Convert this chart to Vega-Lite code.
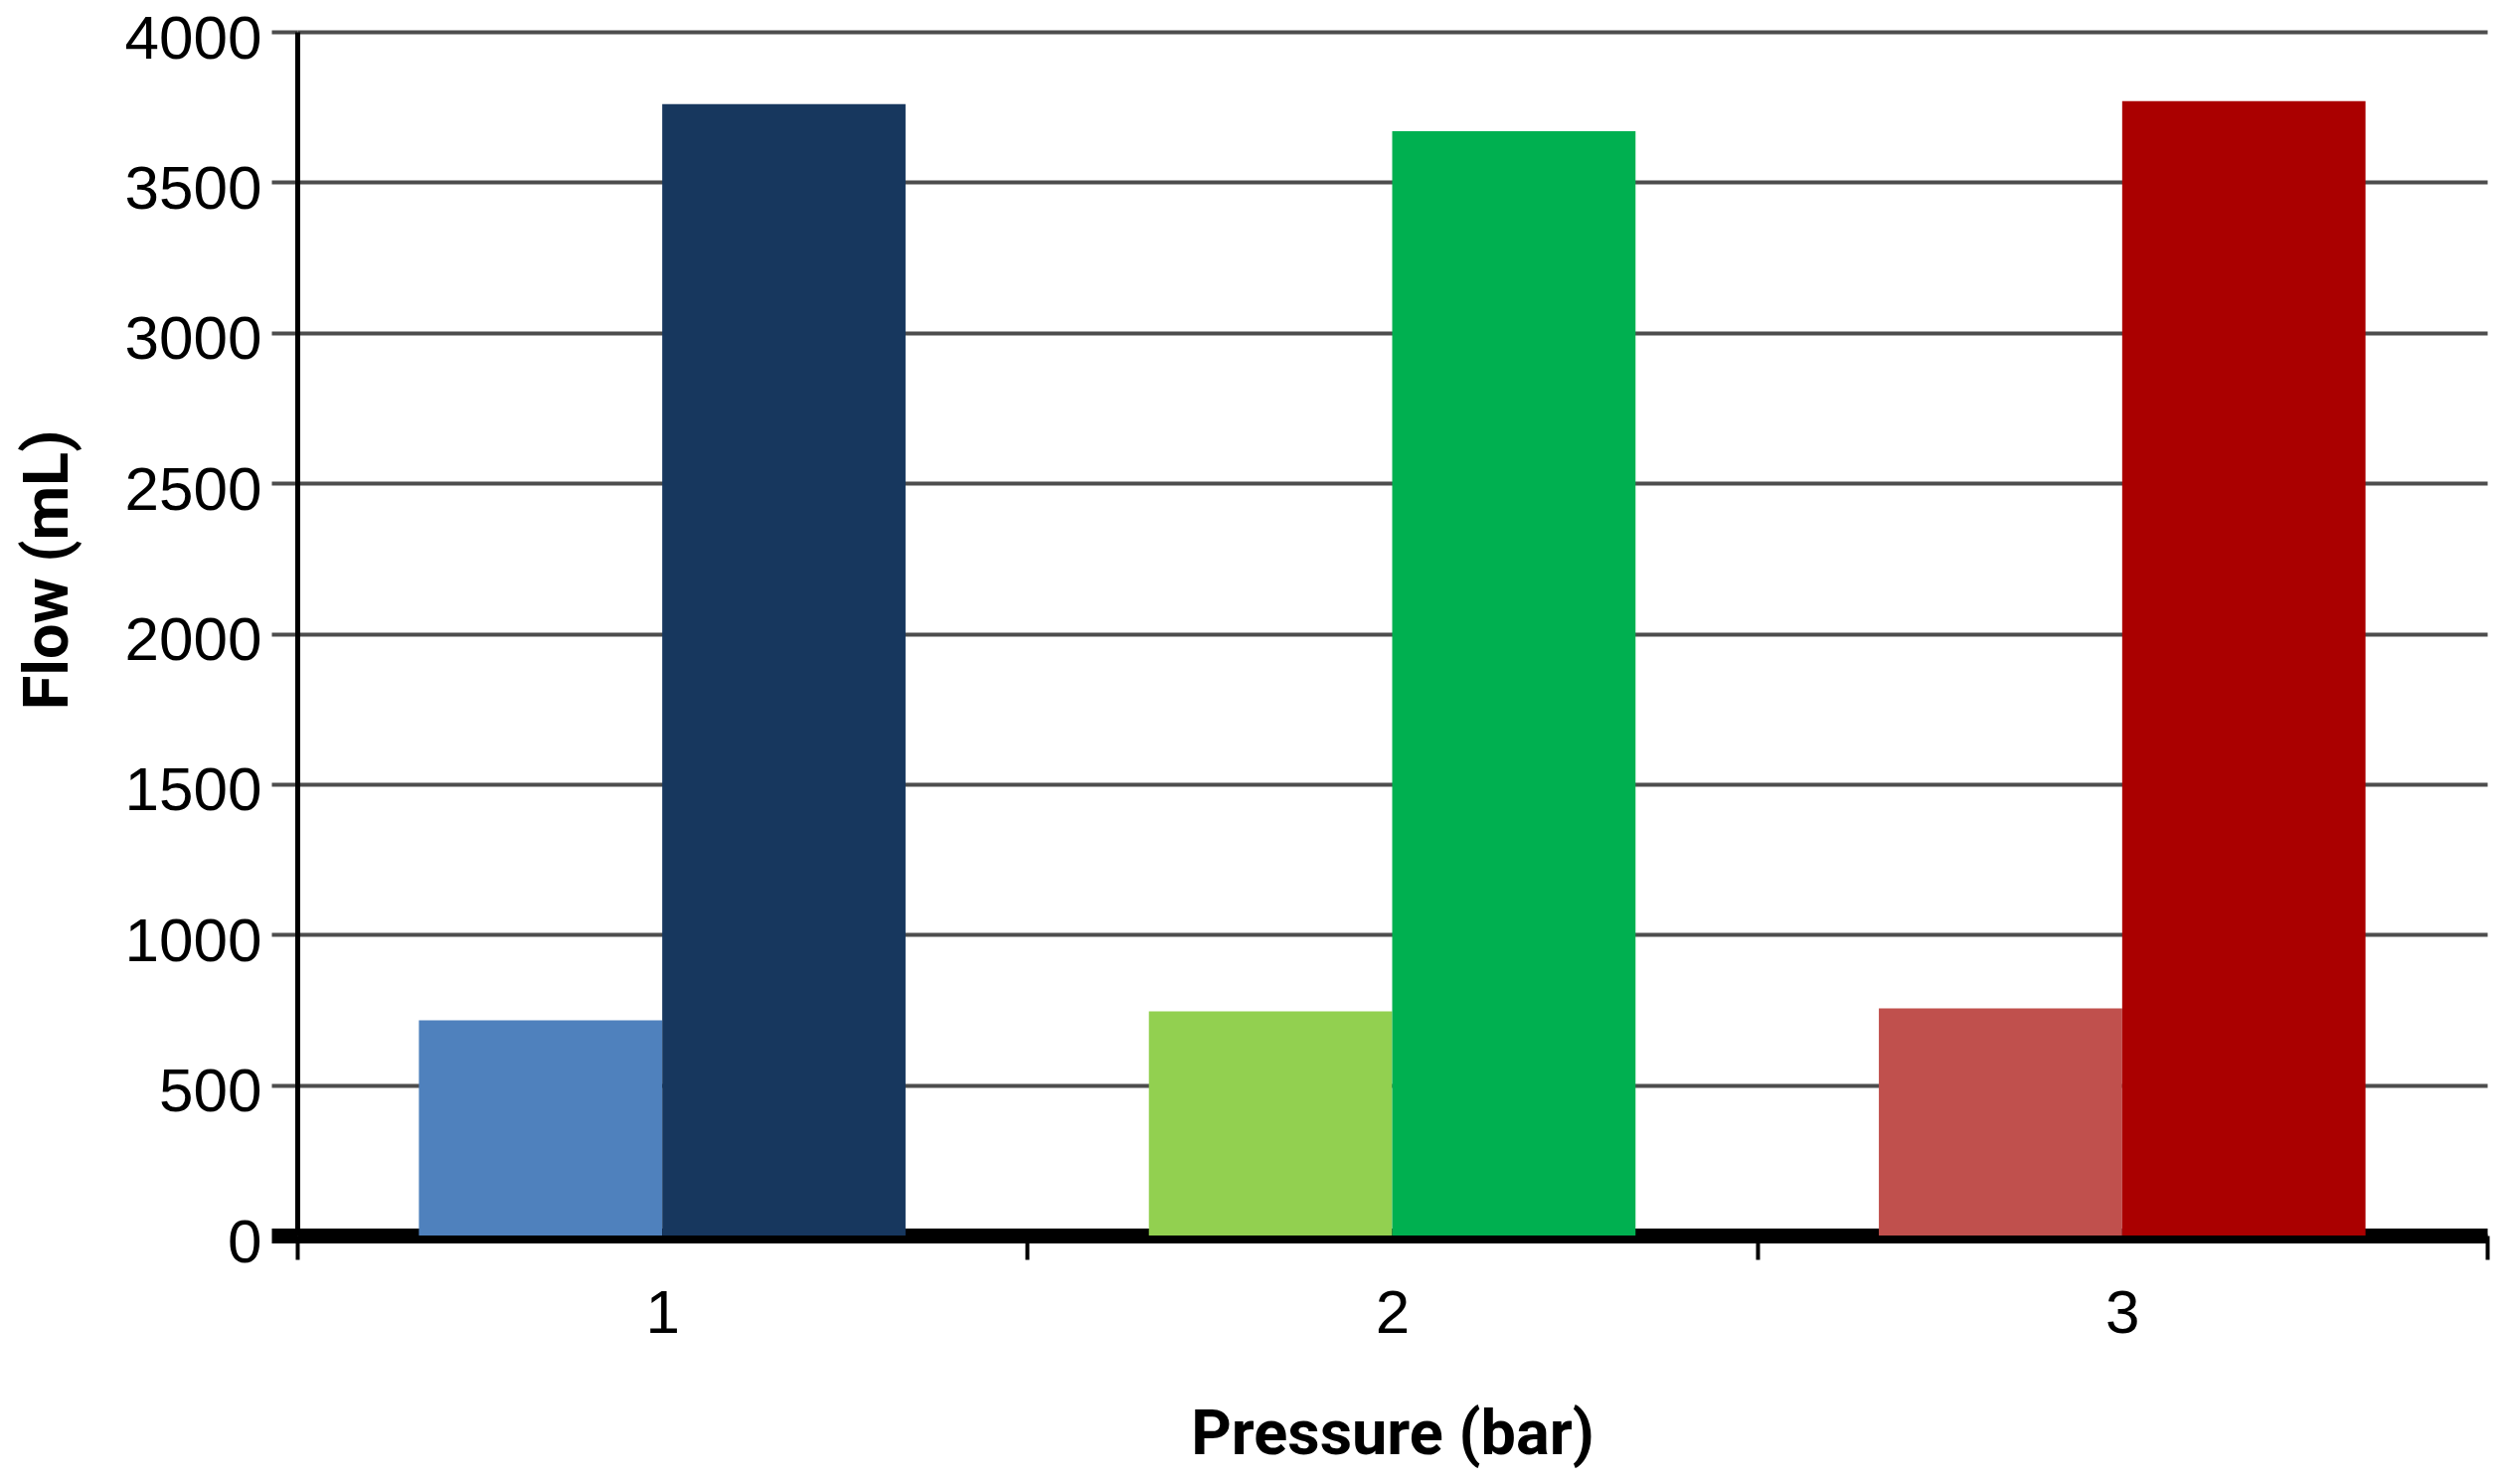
{
  "$schema": "https://vega.github.io/schema/vega-lite/v6.json",
  "autosize": {"type": "none"},
  "width": 2203,
  "height": 1211,
  "padding": {"left": 299, "top": 32, "right": 29, "bottom": 250},
  "background": "white",
  "data": {
    "values": [
      {"pressure": "1", "series": "A", "key": "1A", "flow": 715},
      {"pressure": "1", "series": "B", "key": "1B", "flow": 3760},
      {"pressure": "2", "series": "A", "key": "2A", "flow": 745},
      {"pressure": "2", "series": "B", "key": "2B", "flow": 3670},
      {"pressure": "3", "series": "A", "key": "3A", "flow": 755},
      {"pressure": "3", "series": "B", "key": "3B", "flow": 3770}
    ]
  },
  "mark": {"type": "bar"},
  "encoding": {
    "x": {
      "field": "pressure",
      "type": "ordinal",
      "title": "Pressure (bar)",
      "scale": {"paddingInner": 0, "paddingOuter": 0},
      "axis": {
        "labelAngle": 0,
        "labelFont": "Liberation Sans",
        "labelFontSize": 62,
        "labelColor": "black",
        "labelPadding": 24,
        "tickBand": "extent",
        "tickSize": 24,
        "tickWidth": 4,
        "tickColor": "black",
        "domainColor": "black",
        "domainWidth": 15,
        "grid": false,
        "titleFont": "Roboto",
        "titleFontWeight": "bold",
        "titleFontSize": 63,
        "titleColor": "black",
        "titlePadding": 60
      }
    },
    "xOffset": {"field": "series", "type": "nominal", "scale": {"paddingInner": 0, "paddingOuter": 0.5}},
    "y": {
      "field": "flow",
      "type": "quantitative",
      "title": "Flow (mL)",
      "scale": {"domain": [0, 4000], "nice": false},
      "axis": {
        "values": [0, 500, 1000, 1500, 2000, 2500, 3000, 3500, 4000],
        "format": "d",
        "labelFont": "Liberation Sans",
        "labelFontSize": 62,
        "labelColor": "black",
        "labelPadding": 10,
        "labelOffset": 7,
        "tickSize": 26,
        "tickColor": {"condition": {"test": "datum.value === 0", "value": "black"}, "value": "#4d4d4d"},
        "tickWidth": {"condition": {"test": "datum.value === 0", "value": 15}, "value": 4},
        "domainColor": "black",
        "domainWidth": 5,
        "grid": true,
        "gridColor": "#4d4d4d",
        "gridWidth": 4,
        "gridOpacity": 1,
        "titleFont": "Roboto",
        "titleFontWeight": "bold",
        "titleFontSize": 63,
        "titleColor": "black",
        "titleX": -251,
        "titleY": 541,
        "titleBaseline": "middle",
        "titleAnchor": "middle"
      }
    },
    "color": {
      "field": "key",
      "type": "nominal",
      "scale": {
        "domain": ["1A", "1B", "2A", "2B", "3A", "3B"],
        "range": ["#4F81BD", "#17375E", "#92D050", "#00B050", "#C0504D", "#AA0000"]
      },
      "legend": null
    }
  },
  "config": {"view": {"stroke": null}}
}
